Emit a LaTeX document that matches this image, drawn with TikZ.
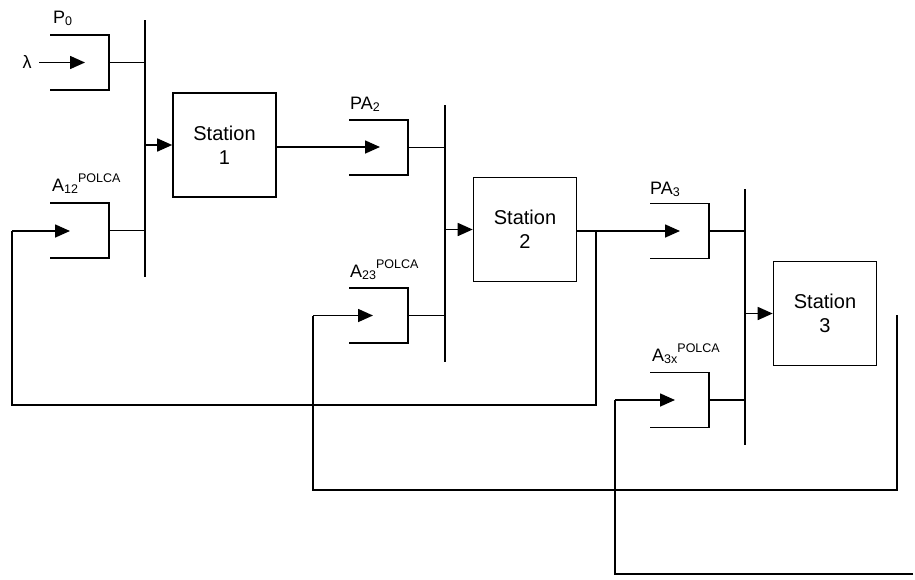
\documentclass[tikz,border=0pt]{standalone}
\usepackage{fontspec}
\setmainfont{Liberation Sans}
\usetikzlibrary{arrows.meta}
\newcommand\mysub[1]{\raisebox{-2.5pt}{\fontsize{12.5}{13}\selectfont #1}}
\newcommand\mysup[1]{\raisebox{9pt}{\fontsize{12.5}{13}\selectfont #1}}
\tikzset{
  wire/.style={line width=1.6pt},
  arr/.style={line width=1.6pt,-{Triangle[length=15pt,width=13pt]}},
  bar/.style={line width=1.8pt},
  station/.style={draw,line width=1.6pt,minimum width=103pt,minimum height=104pt,inner sep=0pt,align=center,font=\fontsize{20}{24}\selectfont},
  lbl/.style={anchor=base west,inner sep=0pt,font=\fontsize{18}{20}\selectfont},
  queue/.pic={\draw[wire] (-59,-27.5) -- (0,-27.5) -- (0,27.5) -- (-59,27.5);
              \coordinate (-out) at (0,0);}
}
\begin{document}
\begin{tikzpicture}[x=1pt,y=-1pt]
\useasboundingbox (0,0) rectangle (915,579);
% queues
\pic (q0) at (109,62.5) {queue};
\pic (qa) at (109,230.5) {queue};
\pic (qp2) at (408,147.5) {queue};
\pic (qb) at (408,315.5) {queue};
\pic (qp3) at (709,231) {queue};
\pic (qc) at (709,400) {queue};
% bars
\coordinate (b1t) at (145,20); \coordinate (b1b) at (145,277);
\coordinate (b2t) at (445,105); \coordinate (b2b) at (445,362);
\coordinate (b3t) at (745,189); \coordinate (b3b) at (745,445);
\draw[bar] (b1t) -- (b1b);
\draw[bar] (b2t) -- (b2b);
\draw[bar] (b3t) -- (b3b);
% stations
\node[station] (s1) at (224.5,145) {Station\\1};
\node[station] (s2) at (525,229.5) {Station\\2};
\node[station] (s3) at (825,313.5) {Station\\3};
% queue outputs to bars
\draw[wire] (q0-out) -- (q0-out -| b1t);
\draw[wire] (qa-out) -- (qa-out -| b1t);
\draw[wire] (qp2-out) -- (qp2-out -| b2t);
\draw[wire] (qb-out) -- (qb-out -| b2t);
\draw[wire] (qp3-out) -- (qp3-out -| b3t);
\draw[wire] (qc-out) -- (qc-out -| b3t);
% bars to stations
\draw[arr] (s1.west -| b1t) -- (s1.west);
\draw[arr] (s2.west -| b2t) -- (s2.west);
\draw[arr] (s3.west -| b3t) -- (s3.west);
% labels
\node[lbl] (lp0) at (53,23) {P\mysub{0}};
\node[lbl,anchor=center] (lam) at (27,62) {λ};
\node[lbl] (la12) at (52,191) {A\mysub{12}\mysup{POLCA}};
\node[lbl] (lpa2) at (350,109) {PA\mysub{2}};
\node[lbl] (la23) at (350,277) {A\mysub{23}\mysup{POLCA}};
\node[lbl] (lpa3) at (650,194) {PA\mysub{3}};
\node[lbl] (la3x) at (652,361) {A\mysub{3x}\mysup{POLCA}};
% input arrows
\coordinate (t0) at (85,62.5);
\draw[arr] (39,62.5) -- (t0);
\coordinate (tp2) at (380,147);
\draw[arr] (s1.east |- tp2) -- (tp2);
\coordinate (j2) at (596,231);
\coordinate (tp3) at (680,231);
\draw[wire] (s2.east |- j2) -- (j2);
\draw[arr] (j2) -- (tp3);
% feedback loops
\coordinate (ta) at (70,231);
\draw[wire] (j2) -- (596,405) -- (12,405) -- (12,231);
\draw[arr] (12,231) -- (ta);
\coordinate (tb) at (373,315.5);
\coordinate (f3) at (897,315);
\draw[wire] (f3) -- (897,490) -- (313,490) -- (313,315.5);
\draw[arr] (313,315.5) -- (tb);
\coordinate (tc) at (675,400);
\coordinate (f4) at (913,574);
\draw[wire] (f4) -- (615,574) -- (615,400);
\draw[arr] (615,400) -- (tc);
\end{tikzpicture}
\end{document}
